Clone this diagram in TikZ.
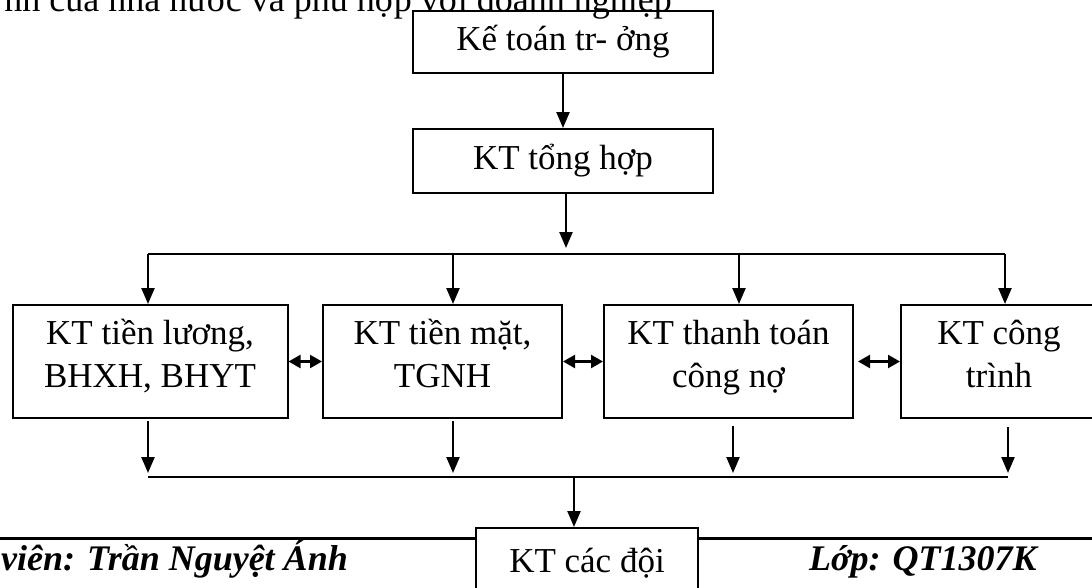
\documentclass[tikz,border=0pt]{standalone}
\usepackage{fontspec}
\setmainfont{Liberation Serif}
\usetikzlibrary{arrows.meta}
% fixed line height so every two-line box sets its text alike
\newcommand\linestrut{\vrule height 26pt depth 17pt width 0pt\relax}
\begin{document}
\begin{tikzpicture}[x=1pt,y=-1pt,
  box/.style={draw,line width=2pt,inner sep=0pt,align=center,
    font=\fontsize{35}{43}\selectfont},
  link/.style={line width=2.3pt,-{Triangle[length=16pt,width=13pt]}},
  both/.style={line width=2.3pt,
    {Triangle[length=12pt,width=13pt]}-{Triangle[length=12pt,width=13pt]}},
  bus/.style={line width=2.3pt},
  rule/.style={line width=3pt},
  plain/.style={inner sep=0pt,font=\fontsize{36}{40}\selectfont},
  footer/.style={inner sep=0pt,font=\fontsize{36}{40}\selectfont\bfseries\itshape}]
\useasboundingbox (0,0) rectangle (1092,587);

% running text of the page above the chart
\node[plain,anchor=base east] (intro) at (672,11) {nh của nhà nước và phù hợp với doanh nghiệp};

% chart boxes
\node[box,minimum width=300pt,minimum height=62pt] (chief) at (563,42) {Kế toán tr- ởng};
\node[box,minimum width=300pt,minimum height=64pt] (general) at (563,161) {KT tổng hợp};
\node[box,minimum width=275pt,minimum height=113pt] (salary) at (150,361.5)
  {\linestrut KT tiền lương,\\\linestrut BHXH, BHYT};
\node[box,minimum width=239pt,minimum height=113pt] (cash) at (442.5,361.5)
  {\linestrut KT tiền mặt,\\\linestrut TGNH};
\node[box,minimum width=249pt,minimum height=113pt] (debt) at (728.5,361.5)
  {\linestrut KT thanh toán\\\linestrut công nợ};
\node[box,minimum width=196pt,minimum height=113pt] (works) at (999,361.5)
  {\linestrut KT công\\\linestrut trình};
\node[box,anchor=north,minimum width=222pt,text height=44pt,text depth=30pt]
  (teams) at (587,527) {KT các đội};

% distribution bus
\coordinate (hub) at (566,254);
\coordinate (hubtip) at (566,248);
\coordinate (dA) at (148,254);
\coordinate (dB) at (453,254);
\coordinate (dC) at (739,254);
\coordinate (dD) at (1005,254);

% collecting bus
\coordinate (uA) at (148,477);
\coordinate (uB) at (453,477);
\coordinate (uC) at (733,477);
\coordinate (uD) at (1008,477);
\coordinate (mid) at (574,477);

% footer rule
\coordinate (fl) at (0,538);
\coordinate (fr) at (1092,538);

\draw[link] (chief) -- (general);
\draw[link] (general.south -| hub) -- (hubtip);
\draw[bus] (dA) -- (dD);
\draw[link] (dA) -- (dA |- salary.north);
\draw[link] (dB) -- (dB |- cash.north);
\draw[link] (dC) -- (dC |- debt.north);
\draw[link] (dD) -- (dD |- works.north);

\draw[both] (salary.east) -- (cash.west);
\draw[both] (cash.east) -- (debt.west);
\draw[both,shorten <=4pt] (debt.east) -- (works.west);

\draw[link,shorten <=2pt,shorten >=4pt] (salary.south -| uA) -- (uA);
\draw[link,shorten <=2pt,shorten >=4pt] (cash.south -| uB) -- (uB);
\draw[link,shorten <=7pt,shorten >=4pt] (debt.south -| uC) -- (uC);
\draw[link,shorten <=8pt,shorten >=4pt] (works.south -| uD) -- (uD);
\draw[bus] (uA) -- (uD);
\draw[link] (mid) -- (teams.north -| mid);

\draw[rule] (fl) -- (fl -| teams.west);
\draw[rule] (teams.east |- fr) -- (fr);

\node[footer,anchor=base east] (student) at (348,570) {viên: Trần Nguyệt Ánh};
\node[footer,anchor=base west] (class) at (809,570) {Lớp: QT1307K};
\end{tikzpicture}
\end{document}
